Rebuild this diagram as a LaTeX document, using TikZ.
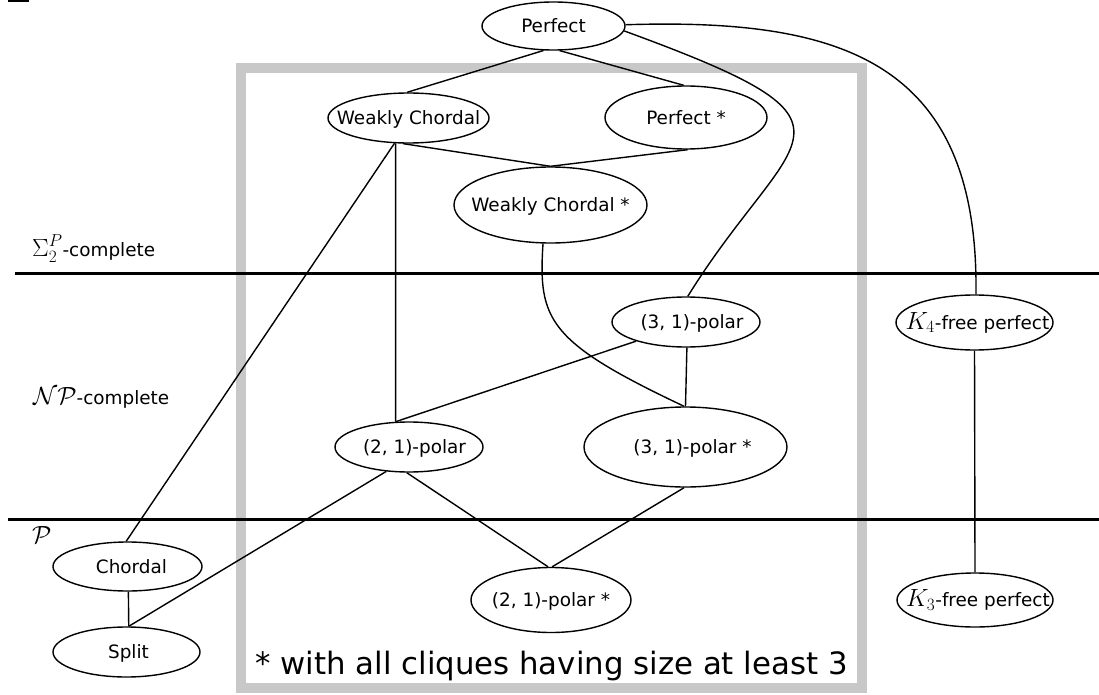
\documentclass[tikz,border=0pt]{standalone}
\usepackage{fontspec}
\setmainfont{DejaVu Sans}
\usetikzlibrary{shapes.geometric}
\definecolor{boxgray}{RGB}{200,200,200}
\newcommand\mth[1]{{\fontsize{26}{30}\selectfont$#1$}}
\newcommand\zt[2][0]{\makebox[0pt]{\kern#1pt\kern#1pt #2}}
\begin{document}
\begin{tikzpicture}[x=1pt,y=-1pt,
  every node/.style={font=\fontsize{18.4}{22}\selectfont},
  cls/.style={draw, ellipse, line width=1.4pt, inner sep=0pt, text height=13.4pt, text depth=0pt},
  edge/.style={line width=1.4pt},
  sep/.style={line width=3pt}]
\useasboundingbox (0,0) rectangle (1099,695);
% gray box
\draw[boxgray, line width=10.5pt] (241,68) rectangle (862,688);
% separators
\draw[sep] (15,273) -- (1099,273);
\draw[sep] (8,519.5) -- (1099,519.5);
\draw[line width=2pt] (8,1) -- (29,1);
% labels
\node[anchor=base west, inner sep=0pt] (lsig) at (32,256) {\mth{\Sigma_2^P}-complete};
\node[anchor=base west, inner sep=0pt] (lnp) at (33,404) {\mth{\mathcal{N}\mathcal{P}}-complete};
\node[anchor=base west, inner sep=0pt] (lp) at (32,543) {\mth{\mathcal{P}}};
% nodes
\node[cls, minimum width=143pt, minimum height=48pt] (perf) at (553.5,26) {\zt{Perfect}};
\node[cls, minimum width=161pt, minimum height=50pt] (wc) at (408.5,118) {\zt{Weakly Chordal}};
\node[cls, minimum width=162pt, minimum height=63pt] (perfs) at (686,117.5) {\zt{Perfect *}};
\node[cls, minimum width=193pt, minimum height=76pt] (wcs) at (550.5,205) {\zt{Weakly Chordal *}};
\node[cls, minimum width=148pt, minimum height=50pt] (p31) at (686,322) {\zt[6]{(3, 1)-polar}};
\node[cls, minimum width=203pt, minimum height=80pt] (p31s) at (685.5,447) {\zt[7]{(3, 1)-polar *}};
\node[cls, minimum width=148pt, minimum height=50pt] (p21) at (409,447) {\zt[5.5]{(2, 1)-polar}};
\node[cls, minimum width=160pt, minimum height=65pt] (p21s) at (551,600) {\zt{(2, 1)-polar *}};
\node[cls, minimum width=157pt, minimum height=55pt] (k4) at (974.5,322.5) {\zt[3]{\mth{K_4}-free perfect}};
\node[cls, minimum width=156pt, minimum height=54pt] (k3) at (975,600) {\zt[3]{\mth{K_3}-free perfect}};
\node[cls, minimum width=149pt, minimum height=49pt] (chordal) at (127.5,566.5) {\zt[4]{Chordal}};
\node[cls, minimum width=147pt, minimum height=50pt] (split) at (126.5,652) {\zt[2]{Split}};
% caption
\node[anchor=base, inner sep=0pt, font=\fontsize{30.8}{36}\selectfont] (cap) at (551.5,674) {* with all cliques having size at least 3};
% edges
\draw[edge] (perf.-112) -- (wc.93);
\draw[edge] (perf.-76) -- (perfs.94);
\draw[edge] (wc.-102) -- (wcs.north);
\draw[edge] (perfs.-87) -- (wcs.north);
\draw[edge] (wc.-119) -- (chordal.93);
\draw[edge] (wc.-117) -- (p21.118);
\draw[edge] (p31.-159) -- (p21.118);
\draw[edge] (p31.-88) -- (p31s.north);
\draw[edge] (wcs.-101) .. controls (538,320) and (548,342) .. (p31s.92);
\draw[edge] (p21.-133) -- (split.85);
\draw[edge] (p21.-95) -- (p21s.95);
\draw[edge] (p31s.-92) -- (p21s.88);
\draw[edge] (chordal.-88) -- (split.85);
\draw[edge] (k4.south) -- (k3.north);
\draw[edge] (perf.1) .. controls (840,18) and (979,60) .. (k4.87);
\draw[edge] (perf.-4) .. controls (887,127) and (792,128) .. (p31.86);
\end{tikzpicture}
\end{document}
